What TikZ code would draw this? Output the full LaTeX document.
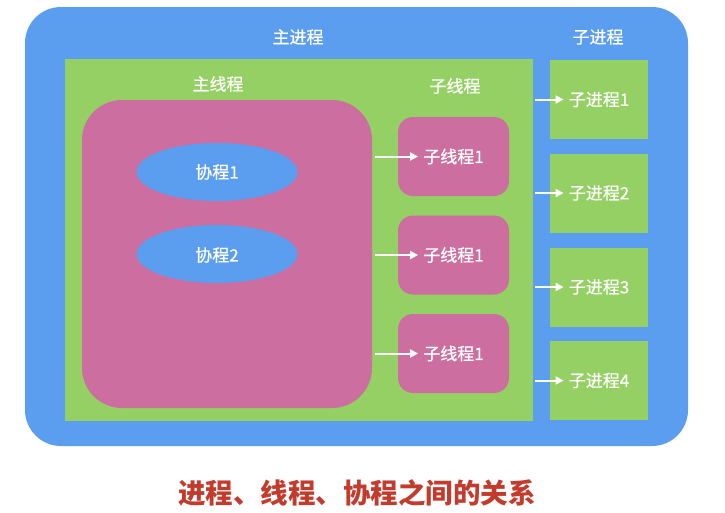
\documentclass[tikz,border=0pt]{standalone}
\usepackage{fontspec}
\setmainfont{Noto Sans CJK SC}
\newfontfamily\lblfont[FakeBold=0.6]{Noto Sans CJK SC}
\usetikzlibrary{shapes.geometric,arrows.meta}
\definecolor{procblue}{HTML}{5B9EF0}
\definecolor{thrgreen}{HTML}{94D063}
\definecolor{copink}{HTML}{CC6E9F}
\definecolor{titlered}{HTML}{C23B2C}
\tikzset{
  area/.style={draw=none, inner sep=0pt, outer sep=0pt},
  lbl/.style={text=white, font=\lblfont\fontsize{17}{19}\selectfont, inner sep=5pt},
  arr/.style={draw=white, line width=2pt, -{Triangle[length=8pt,width=8pt]}},
}
\begin{document}
\begin{tikzpicture}[x=1pt,y=-1pt]
\useasboundingbox (0,0) rectangle (725,512);
% outer process
\node[area, fill=procblue, rounded corners=36pt, minimum width=663, minimum height=439] (proc) at (356.5,226.5) {};
% main process green
\node[area, fill=thrgreen, minimum width=468, minimum height=362] (mainp) at (299,240) {};
% main thread pink
\node[area, fill=copink, rounded corners=40pt, minimum width=290, minimum height=308] (mainth) at (227,254) {};
% coroutines
\node[area, ellipse, fill=procblue, minimum width=161, minimum height=58] (co1) at (217,172) {};
\node[area, ellipse, fill=procblue, minimum width=161, minimum height=58] (co2) at (217,254) {};
\node[lbl] (tco1) at (217,172) {协程1};
\node[lbl] (tco2) at (217,255) {协程2};
% sub threads
\foreach \i/\y in {1/156.5, 2/255, 3/353.5}{
  \node[area, fill=copink, rounded corners=15pt, minimum width=111, minimum height=79] (sb\i) at (453.5,\y) {};
  \node[lbl] (st\i) at (453.5,\y) {子线程1};
  \coordinate (sa\i) at (375,\y);
  \draw[arr] (sa\i) -- (st\i.west);
}
% sub processes
\foreach \i/\y in {1/99.5, 2/193, 3/287, 4/380.5}{
  \node[area, fill=thrgreen, minimum width=98, minimum height=79] (pb\i) at (599,\y) {};
  \node[lbl] (pt\i) at (599,\y) {子进程\i};
  \coordinate (pa\i) at (535,\y);
  \draw[arr] (pa\i) -- (pt\i.west);
}
% headings
\node[lbl] (hmainp) at (298,37) {主进程};
\node[lbl] (hsubp) at (598,37) {子进程};
\node[lbl] (hmainth) at (218,84) {主线程};
\node[lbl] (hsubth) at (455,86) {子线程};
% title
\node[text=titlered, font=\fontsize{27.5}{31}\selectfont\bfseries] (title) at (357,493) {进程、线程、协程之间的关系};
\end{tikzpicture}
\end{document}
